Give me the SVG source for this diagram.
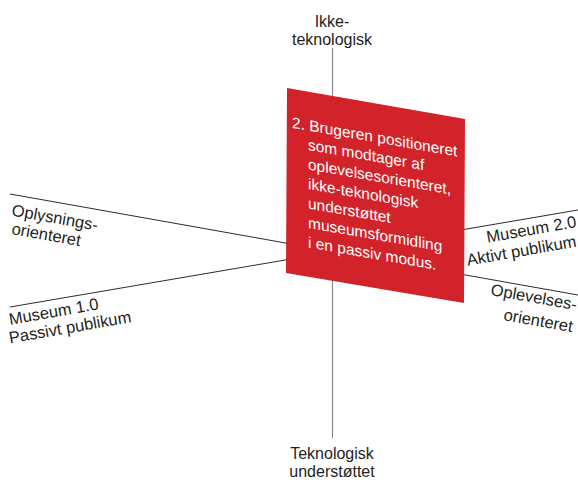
<svg xmlns="http://www.w3.org/2000/svg" width="578" height="482" viewBox="0 0 578 482">
  <style>
    .lbl { font-family: "Liberation Sans", Arial, sans-serif; font-size: 16px; fill: #231f20; }
    .rot { font-size: 16.5px; }
    .mid { text-anchor: middle; }
    .end { text-anchor: end; }
    .axis { stroke: #2b2b2b; stroke-width: 1; fill: none; }
    .vaxis { stroke: #8a8a8a; stroke-width: 1.2; fill: none; }
    .card { fill: #d2232a; }
    .cardtxt { font-family: "Liberation Sans", Arial, sans-serif; font-size: 15.5px; fill: #ffffff; }
  </style>
  <rect width="578" height="482" fill="#ffffff"/>

  <!-- three axes of the model -->
  <g id="connectors">
    <line class="vaxis" x1="332.5" y1="48" x2="332.5" y2="438"/>
    <line class="axis" x1="10" y1="194" x2="578" y2="295"/>
    <line class="axis" x1="10" y1="307" x2="578" y2="210"/>
  </g>

  <!-- axis end labels -->
  <g id="top-label">
    <text class="lbl mid" x="332" y="27">Ikke-</text>
    <text class="lbl mid" x="332" y="44.5">teknologisk</text>
  </g>
  <g id="bottom-label">
    <text class="lbl mid" x="332" y="459">Teknologisk</text>
    <text class="lbl mid" x="332" y="477">understøttet</text>
  </g>
  <g id="left-upper-label">
    <text class="lbl rot" transform="translate(11,215.5) rotate(10)">Oplysnings-</text>
    <text class="lbl rot" transform="translate(11,234) rotate(10)">orienteret</text>
  </g>
  <g id="left-lower-label">
    <text class="lbl rot" transform="translate(10,325) rotate(-10)">Museum 1.0</text>
    <text class="lbl rot" transform="translate(10,343.5) rotate(-10)">Passivt publikum</text>
  </g>
  <g id="right-upper-label">
    <text class="lbl rot end" transform="translate(577,227) rotate(-10)">Museum 2.0</text>
    <text class="lbl rot end" transform="translate(577,246.5) rotate(-10)">Aktivt publikum</text>
  </g>
  <g id="right-lower-label">
    <text class="lbl rot" transform="translate(490,295) rotate(10)">Oplevelses-</text>
    <text class="lbl rot" transform="translate(503,320) rotate(10)">orienteret</text>
  </g>

  <!-- position 2 card -->
  <g id="position-2">
    <polygon class="card" points="287,88 465,119 464,303 286,273"/>
    <g transform="translate(308,0) skewY(9.9)">
      <text class="cardtxt" x="-16" y="130.5">2. Brugeren positioneret</text>
      <text class="cardtxt" x="0" y="150">som modtager af</text>
      <text class="cardtxt" x="0" y="169.5">oplevelsesorienteret,</text>
      <text class="cardtxt" x="0" y="189">ikke-teknologisk</text>
      <text class="cardtxt" x="0" y="208.5">understøttet</text>
      <text class="cardtxt" x="0" y="228">museumsformidling</text>
      <text class="cardtxt" x="0" y="247.5">i en passiv modus.</text>
    </g>
  </g>
</svg>
